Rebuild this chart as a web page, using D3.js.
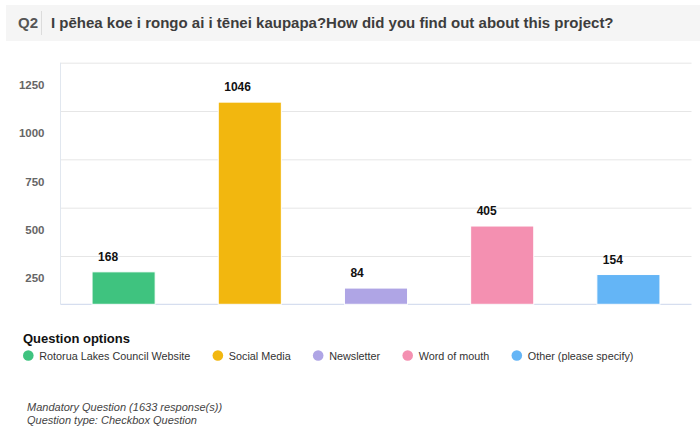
<!DOCTYPE html>
<html>
<head>
<meta charset="utf-8">
<script src="https://cdn.jsdelivr.net/npm/d3@7/dist/d3.min.js"></script>
<style>
  html, body { margin: 0; padding: 0; background: #fff; }
  svg { display: block; font-family: "Liberation Sans", Arial, Helvetica, sans-serif; }
</style>
</head>
<body>
<svg id="chart" width="700" height="428"></svg>
<script>
// Survey question Q2: how respondents heard about the project
const questionNo = "Q2";
const questionTitle = "I pēhea koe i rongo ai i tēnei kaupapa?How did you find out about this project?";
const categories = ["Rotorua Lakes Council Website", "Social Media", "Newsletter", "Word of mouth", "Other (please specify)"];
const counts = [168, 1046, 84, 405, 154];
const colors = ["#3fc37f", "#f2b70f", "#afa5e5", "#f490b1", "#64b5f6"];
const yTicks = [250, 500, 750, 1000, 1250];
const legendTitle = "Question options";
const footerLines = ["Mandatory Question (1633 response(s))", "Question type: Checkbox Question"];

const svg = d3.select("#chart");

// Header band
svg.append("rect").attr("x", 6).attr("y", 5).attr("width", 694).attr("height", 36).attr("fill", "#f5f5f5");
svg.append("text").attr("x", 18).attr("y", 28).attr("font-size", 15).attr("font-weight", "bold")
  .attr("fill", "#555").text(questionNo);
svg.append("line").attr("x1", 41.5).attr("x2", 41.5).attr("y1", 11).attr("y2", 35)
  .attr("stroke", "#dcdcdc").attr("stroke-width", 1);
svg.append("text").attr("x", 51).attr("y", 28).attr("font-size", 15).attr("font-weight", "bold")
  .attr("fill", "#3d3d3d").text(questionTitle);

// Plot area
const plotL = 60.5, plotR = 691.5, plotT = 62.7, plotB = 304.3;
const y = d3.scaleLinear().domain([0, 1250]).range([plotB, plotT]);
const x = d3.scaleBand().domain(categories).range([plotL, plotR]).padding(0);
const barW = x.bandwidth() * 0.5;

// Gridlines and tick labels (labels sit in the band below each gridline)
const yAxis = d3.axisLeft(y).tickValues(yTicks).tickFormat(d3.format("d"))
  .tickSize(-(plotR - plotL)).tickPadding(16);
const gy = svg.append("g").attr("transform", `translate(${plotL},0)`).call(yAxis);
gy.select(".domain").remove();
gy.selectAll(".tick line").attr("stroke", "#e6e6e6").attr("stroke-width", 1);
gy.selectAll(".tick text")
  .attr("fill", "#666").attr("font-size", 11.5).attr("font-weight", "bold")
  .attr("font-family", "'Liberation Sans', Arial, sans-serif")
  .attr("dy", "0.32em").attr("y", (y(0) - y(250)) / 2 - 2);

// Left axis line and baseline
svg.append("line").attr("x1", plotL).attr("x2", plotL).attr("y1", plotT).attr("y2", plotB)
  .attr("stroke", "#e1e7ef");
svg.append("line").attr("x1", plotL).attr("x2", plotR).attr("y1", y(0)).attr("y2", y(0))
  .attr("stroke", "#ccd6eb");

// Bars
const bars = svg.append("g");
bars.selectAll("rect").data(counts).join("rect")
  .attr("x", (d, i) => x(categories[i]) + (x.bandwidth() - barW) / 2)
  .attr("y", d => y(d))
  .attr("width", barW)
  .attr("height", d => y(0) - y(d))
  .attr("fill", (d, i) => colors[i])
  .attr("stroke", "#fff").attr("stroke-width", 1);

// Value labels
bars.selectAll("text").data(counts).join("text")
  .attr("x", (d, i) => x(categories[i]) + (x.bandwidth() - barW) / 2 + 6)
  .attr("y", d => y(d) - 11)
  .attr("font-size", 12).attr("font-weight", "bold").attr("fill", "#111")
  .text(d => d);

// Legend
svg.append("text").attr("x", 23).attr("y", 343).attr("font-size", 13).attr("font-weight", "bold")
  .attr("fill", "#111").text(legendTitle);
let lx = 28.3;
categories.forEach((c, i) => {
  const g = svg.append("g");
  g.append("circle").attr("cx", lx).attr("cy", 355.5).attr("r", 5.3).attr("fill", colors[i]);
  const t = g.append("text").attr("x", lx + 11).attr("y", 359.5).attr("font-size", 10.8)
    .attr("fill", "#333").text(c);
  lx += 11 + t.node().getComputedTextLength() + 27.5;
});

// Footer notes
footerLines.forEach((s, i) => {
  svg.append("text").attr("x", 27).attr("y", 410.5 + i * 13.5).attr("font-size", 11)
    .attr("font-style", "italic").attr("fill", "#444").text(s);
});
</script>
</body>
</html>
